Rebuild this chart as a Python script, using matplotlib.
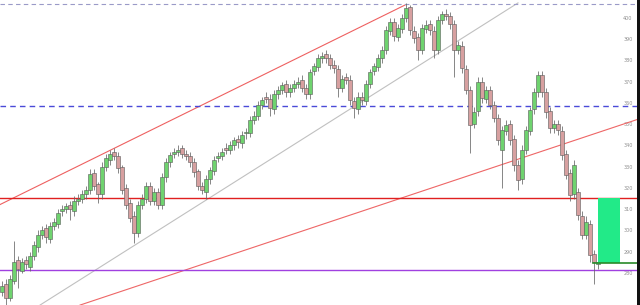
import matplotlib
matplotlib.use('Agg')
import matplotlib.pyplot as plt
from matplotlib.patches import Rectangle

# candle data (one candle every ~4 px in the reference)
opens = [271, 275, 268, 276, 286, 281, 286, 283, 288, 292,
         298, 301, 296, 302, 303, 309, 310, 312, 309, 314,
         315, 317, 319, 327, 322, 317, 330, 333, 337, 335,
         330, 320, 313, 307, 299, 312, 315, 321, 314, 318,
         312, 325, 332, 336, 337, 339, 336, 335, 332, 328,
         321, 318, 324, 328, 334, 335, 339, 338, 340, 343,
         341, 346, 346, 352, 354, 359, 363, 362, 357, 364,
         366, 369, 365, 367, 369, 371, 367, 364, 375, 377,
         381, 383, 381, 378, 376, 367, 372, 371, 361, 357,
         363, 361, 369, 375, 377, 381, 385, 394, 398, 391,
         395, 400, 405, 394, 391, 385, 395, 397, 394, 385,
         399, 402, 401, 397, 385, 387, 376, 366, 350, 356,
         370, 362, 366, 359, 353, 338, 347, 350, 343, 331,
         324, 338, 347, 357, 365, 373, 365, 356, 348, 350,
         347, 336, 327, 317, 318, 307, 298, 303, 289, 284]
closes = [274, 268, 277, 285, 282, 285, 284, 288, 293, 298,
          300, 297, 302, 304, 308, 310, 311.5, 310, 314, 315,
          317, 319, 326.5, 321, 317, 330, 334, 336, 335, 329.5,
          319, 312, 306, 299, 312, 315, 321, 314, 318, 312,
          325, 332, 335.5, 337, 338, 336, 335, 332, 327.5, 321,
          319, 324, 328.5, 333, 335, 337, 338, 340, 342.5, 341.5,
          345, 346, 352, 354, 359, 361.5, 362, 357.5, 364, 366,
          368.5, 365, 367, 369, 370, 367, 364, 374.5, 377.5, 381,
          382, 381, 378, 376.5, 367, 371.5, 371, 361.5, 357.5, 363,
          361.5, 369, 374.5, 377.5, 381, 385, 394.4, 398, 391.5, 395.5,
          400, 404.7, 394.4, 390.6, 385, 395.3, 396.7, 394.4, 385, 399,
          401.9, 401, 397, 385, 387.3, 376.5, 366, 349.6, 355.8, 370,
          362.4, 366, 359, 353, 342.6, 347.3, 349.6, 342.6, 330.8, 323.8,
          337.9, 347.3, 356.7, 365, 373.2, 365, 355.8, 348.3, 350, 347.3,
          335.5, 326, 316.7, 330.8, 307.3, 297.9, 304, 288.5, 285, 285]
highs = [276, 277, 279, 295, 288, 287, 288, 290, 295, 300,
         302, 303, 304, 306, 310, 312, 313, 314, 316, 317,
         319, 321, 329, 329, 323, 332, 336, 338, 339, 337,
         331, 322, 315, 309, 314, 317, 323, 323, 320, 320,
         327, 334, 337, 339, 340, 340, 338, 337, 334, 329,
         323, 326, 330, 335, 337, 339, 341, 342, 344, 345,
         347, 348, 354, 356, 361, 363, 365, 364, 366, 368,
         370, 371, 369, 371, 372, 373, 369, 376, 379, 383,
         384, 385, 383, 380, 378, 373, 374, 373, 363, 365,
         365, 371, 376, 379, 383, 387, 396, 400, 400, 397,
         402, 407, 406, 396, 393, 397, 399, 399, 396, 401,
         403.5, 404, 403, 399, 389, 389, 378, 368, 358, 372,
         372, 368, 368, 361, 355, 349, 352, 352, 345, 333,
         340, 349, 358, 367, 375, 375, 367, 358, 352, 352,
         349, 338, 329, 333, 320, 309, 307, 305, 291, 287]
lows = [269, 265, 267, 275, 273, 280, 282, 281, 286, 290,
        296, 294, 294, 300, 301, 307, 308, 305, 307, 312,
        313, 315, 317, 319, 313, 315, 328, 331, 333, 327,
        317, 310, 304, 294, 297, 310, 313, 312, 312, 310,
        310, 323, 330, 334, 335, 334, 333, 330, 325, 319,
        317, 315, 322, 326, 332, 333, 336, 336, 338, 339,
        339, 343, 344, 350, 352, 357, 360, 354, 355, 362,
        364, 363, 363, 365, 367, 365, 362, 362, 373, 375,
        379, 379, 376, 374, 363, 365, 369, 359, 353, 355,
        359, 359, 367, 373, 375, 379, 383, 392, 389, 389,
        393, 398, 392, 388, 380, 383, 393, 392, 381, 383,
        397, 399, 395, 372, 383, 374, 364, 336.5, 348, 354,
        360, 360, 357, 351, 340, 320, 345, 340, 328, 319,
        322, 336, 345, 355, 363, 363, 353, 346, 346, 345,
        333, 324, 314, 315, 305, 296, 296, 285, 275, 282]

# drawn lines (candle index, price)
upper_channel = ([-0.5, 100.75], [312.2, 406.1])
grey_trend = ([9.5, 129.0], [264.9, 407.1])
lower_trend = ([19.5, 158.75], [264.9, 352.2])
red_level = 315.3
purple_level = 281.4
blue_level = 358.6
top_level = 406.6
box_x = (149.0, 154.5)
box_y = (284.7, 315.3)
ticks = [400, 390, 380, 370, 360, 350, 340, 330, 320, 310, 300, 290, 280]

fig = plt.figure(figsize=(6.4, 3.05), dpi=100)
ax = fig.add_axes([0, 0, 637 / 640, 1])

idx = list(range(len(closes)))
up_col = '#6fd36f'
dn_col = '#d7a0a0'
cols = [up_col if c >= o else dn_col for o, c in zip(opens, closes)]

ax.vlines(idx, lows, highs, color='#666666', lw=0.55, zorder=3)
bottoms = [min(o, c) for o, c in zip(opens, closes)]
heights = [max(abs(c - o), 0.4) for o, c in zip(opens, closes)]
ax.bar(idx, heights, bottom=bottoms, width=0.8, color=cols,
       edgecolor='#5a5a5a', linewidth=0.4, zorder=4)

ax.plot(*upper_channel, color='#ee6060', lw=0.8, zorder=2)
ax.plot(*grey_trend, color='#c0c0c0', lw=0.8, zorder=2)
ax.plot(*lower_trend, color='#ee6666', lw=0.8, zorder=2)
ax.axhline(red_level, color='#e02020', lw=1.0, zorder=2)
ax.axhline(purple_level, color='#a040e0', lw=1.0, zorder=2)
ax.axhline(blue_level, color='#4a4ad8', lw=1.0, ls=(0, (4, 3)), zorder=2)
ax.axhline(top_level, color='#9a9ac8', lw=0.8, ls=(0, (4, 3)), zorder=2)

ax.add_patch(Rectangle((box_x[0], box_y[0]), box_x[1] - box_x[0],
                       box_y[1] - box_y[0], facecolor='#22ea88',
                       edgecolor='none', zorder=5))
ax.plot([147.75, 158.75], [box_y[0], box_y[0]], color='#2a8a2a', lw=1.2, zorder=6)

ax.set_xlim(-0.5, 158.75)
ax.set_ylim(264.94, 408.47)
ax.set_xticks([])
ax.yaxis.tick_right()
ax.set_yticks(ticks)
ax.set_yticklabels([str(t) for t in ticks])
ax.tick_params(axis='y', length=0, pad=-10, labelsize=3.5, labelcolor='#909090')
for s in ax.spines.values():
    s.set_visible(False)

fig.add_artist(Rectangle((637 / 640, 0), 3 / 640, 1, transform=fig.transFigure,
                         facecolor='#111111', edgecolor='none'))

fig.savefig('out.png', dpi=100)
